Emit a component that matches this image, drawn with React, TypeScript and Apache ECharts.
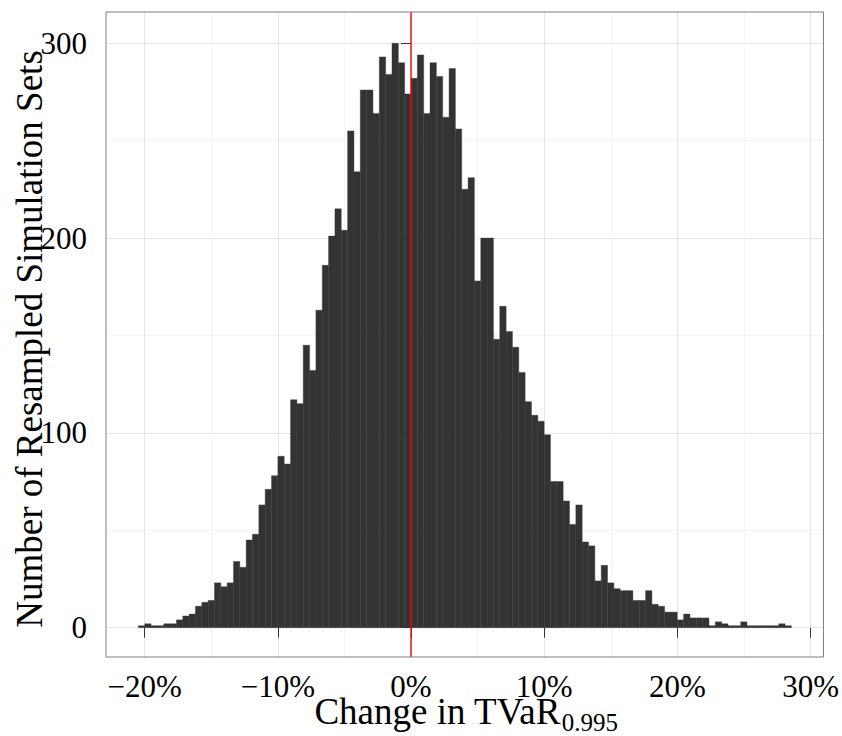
import React, { useEffect, useRef } from "react";
import * as echarts from "echarts";

// Histogram bins (percent change), left edge of first bin and common width
const binStart = -20.468;
const binWidth = 0.476;
// Counts per bin, left to right
const counts = [
  1, 2, 1, 1, 2, 2, 4, 6, 7, 11,
  13, 14, 23, 21, 23, 34, 31, 45, 48, 63,
  71, 78, 88, 84, 117, 115, 145, 132, 163, 186,
  201, 215, 204, 255, 234, 276, 276, 264, 293, 284,
  300, 290, 274, 282, 294, 264, 290, 283, 262, 287,
  256, 225, 231, 178, 200, 200, 148, 165, 152, 144,
  131, 116, 109, 106, 99, 75, 75, 65, 53, 63,
  44, 42, 24, 32, 23, 20, 19, 19, 14, 14,
  19, 12, 11, 8, 8, 4, 7, 5, 5, 5,
  1, 3, 2, 1, 1, 3, 1, 1, 1, 1,
  1, 2, 1,
];
const xTicks = [-20, -10, 0, 10, 20, 30];
const xMinorTicks = [-15, -5, 5, 15, 25];
const yTicks = [0, 100, 200, 300];
const yMinorTicks = [50, 150, 250];
const refLineX = 0;

const X_MIN = -22.9;
const X_MAX = 30.97;
const Y_MIN = -15.05;
const Y_MAX = 316.05;

const FONT = '"Liberation Serif", "Times New Roman", serif';
const MAJOR = "#e5e5e5";
const MINOR = "#f5f5f5";

export default function App() {
  const ref = useRef<HTMLDivElement>(null);

  useEffect(() => {
    if (!ref.current) return;
    const chart = echarts.init(ref.current, undefined, { renderer: "svg" });

    const binData = counts.map((c, i) => [
      binStart + i * binWidth,
      binStart + (i + 1) * binWidth,
      c,
    ]);

    const fmtX = (v: number) => (v < 0 ? "\u2212" : "") + Math.abs(v) + "%";

    chart.setOption({
      animation: false,
      backgroundColor: "#ffffff",
      grid: {
        left: 106,
        right: 16,
        top: 12,
        bottom: 79,
        show: true,
        borderColor: "#7f7f7f",
        borderWidth: 1,
        backgroundColor: "transparent",
        z: 10,
      },
      xAxis: [
        {
          type: "value",
          min: X_MIN,
          max: X_MAX,
          position: "bottom",
          axisLine: { show: false },
          axisTick: {
            show: true,
            customValues: xTicks,
            length: 10,
            lineStyle: { color: "#333333", width: 1 },
          },
          axisLabel: {
            customValues: xTicks,
            formatter: fmtX,
            fontSize: 31,
            lineHeight: 20,
            fontFamily: FONT,
            color: "#000000",
            margin: 19,
          },
          splitLine: { show: true, lineStyle: { color: MAJOR, width: 1 } },
        },
        {
          type: "value",
          min: X_MIN,
          max: X_MAX,
          position: "top",
          axisLine: { show: false },
          axisTick: { show: false, customValues: xMinorTicks },
          axisLabel: { show: false },
          splitLine: { show: true, lineStyle: { color: MINOR, width: 1 } },
        },
      ],
      yAxis: [
        {
          type: "value",
          min: Y_MIN,
          max: Y_MAX,
          position: "left",
          axisLine: { show: false },
          axisTick: {
            show: true,
            customValues: yTicks,
            length: 10,
            lineStyle: { color: "#333333", width: 1 },
          },
          axisLabel: {
            customValues: yTicks,
            fontSize: 31,
            fontFamily: FONT,
            color: "#000000",
            margin: 19,
          },
          splitLine: { show: true, lineStyle: { color: MAJOR, width: 1 } },
        },
        {
          type: "value",
          min: Y_MIN,
          max: Y_MAX,
          position: "right",
          axisLine: { show: false },
          axisTick: { show: false, customValues: yMinorTicks },
          axisLabel: { show: false },
          splitLine: { show: true, lineStyle: { color: MINOR, width: 1 } },
        },
      ],
      series: [
        {
          type: "custom",
          xAxisIndex: 0,
          yAxisIndex: 0,
          encode: { x: [0, 1], y: 2 },
          data: binData,
          silent: true,
          renderItem: (params: any, api: any) => {
            const p0 = api.coord([api.value(0), api.value(2)]);
            const p1 = api.coord([api.value(1), 0]);
            return {
              type: "rect",
              shape: {
                x: p0[0],
                y: p0[1],
                width: p1[0] - p0[0],
                height: p1[1] - p0[1],
              },
              style: { fill: "#333333", stroke: "#333333", lineWidth: 0.4 },
            };
          },
          z: 3,
        },
        {
          type: "line",
          xAxisIndex: 0,
          yAxisIndex: 0,
          data: [
            [refLineX, Y_MIN],
            [refLineX, Y_MAX],
          ],
          symbol: "none",
          silent: true,
          lineStyle: { color: "#ff0000", width: 1.4 },
          z: 5,
        },
      ],
      graphic: [
        {
          type: "text",
          x: 29,
          y: 339,
          rotation: Math.PI / 2,
          style: {
            text: "Number of Resampled Simulation Sets",
            fontSize: 37,
            fontFamily: FONT,
            fill: "#000000",
            align: "center",
            verticalAlign: "middle",
          },
        },
        {
          type: "text",
          x: 466,
          y: 708,
          style: {
            text: "{m|Change in TVaR}{s|0.995}",
            align: "center",
            verticalAlign: "top",
            fill: "#000000",
            rich: {
              m: {
                fontSize: 37,
                fontFamily: FONT,
                lineHeight: 22,
                verticalAlign: "bottom",
                fill: "#000000",
              },
              s: {
                fontSize: 25,
                fontFamily: FONT,
                lineHeight: 14,
                verticalAlign: "top",
                padding: [2, 0, 0, 1],
                fill: "#000000",
              },
            },
          },
        },
      ],
    });

    return () => chart.dispose();
  }, []);

  return (
    <div
      ref={ref}
      style={{ position: "fixed", left: 0, top: 0, width: 842, height: 736 }}
    />
  );
}
